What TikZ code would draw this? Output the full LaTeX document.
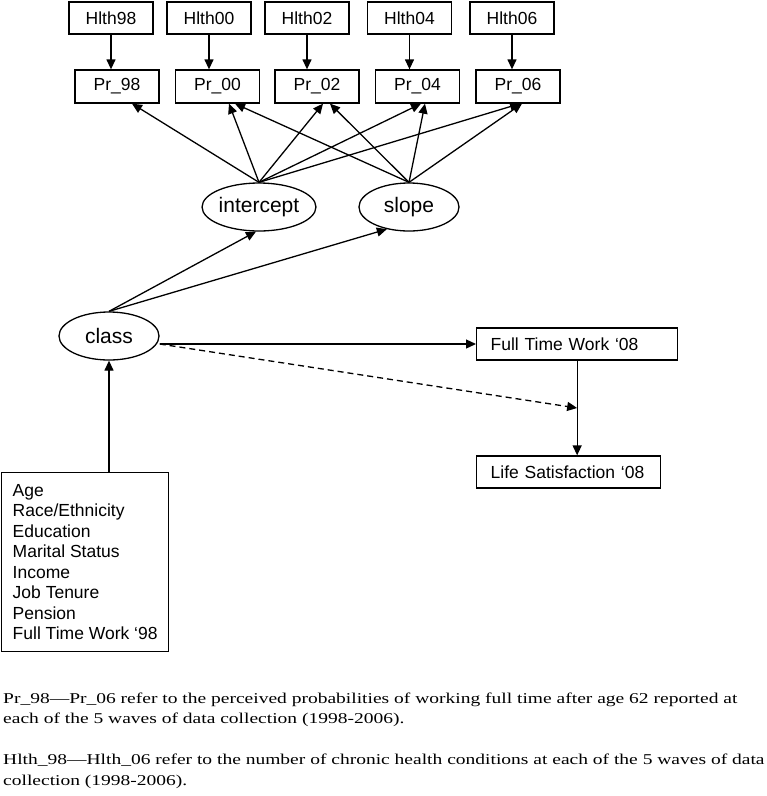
\documentclass[tikz,border=0pt]{standalone}
\usepackage{fontspec}
\usepackage{tikz}
\usetikzlibrary{calc,arrows.meta,shapes.geometric}
\newfontfamily\diagfont{Liberation Sans}
\newfontfamily\notefont[FakeStretch=1.3]{Liberation Serif}
\tikzset{
  box/.style={draw=black, line width=1.3pt, inner sep=0pt, minimum width=84pt, minimum height=32pt, font=\diagfont\fontsize{17.5}{20.5}\selectfont},
  oval/.style={ellipse, draw=black, line width=1.3pt, inner sep=0pt, minimum width=100pt, minimum height=48pt, font=\diagfont\fontsize{21}{24}\selectfont},
  arr/.style={draw=black, line width=1.3pt, -{Triangle[length=10pt,width=9pt]}},
  dasharr/.style={arr, dash pattern=on 6pt off 4pt},
  note/.style={anchor=base west, inner sep=0pt, font=\notefont\fontsize{15}{21}\selectfont},
}
\begin{document}
\begin{tikzpicture}[x=1pt, y=-1pt]
  \useasboundingbox (0,0) rectangle (767,796);
  % health counts
  \node[box] (h98) at (111,18) {Hlth98};
  \node[box] (h00) at (209,18) {Hlth00};
  \node[box] (h02) at (307,18) {Hlth02};
  \node[box] (h04) at (409.5,18) {Hlth04};
  \node[box] (h06) at (512,18) {Hlth06};
  % perceived probabilities
  \node[box, minimum height=33pt] (p98) at (117,86.5) {Pr\_98};
  \node[box, minimum height=33pt] (p00) at (217.5,86.5) {Pr\_00};
  \node[box, minimum height=33pt] (p02) at (317,86.5) {Pr\_02};
  \node[box, minimum height=33pt] (p04) at (417.5,86.5) {Pr\_04};
  \node[box, minimum height=33pt] (p06) at (518,86.5) {Pr\_06};
  \draw[arr] (h98.south) -- (h98.south |- p98.north);
  \draw[arr] (h00.south) -- (h00.south |- p00.north);
  \draw[arr] (h02.south) -- (h02.south |- p02.north);
  \draw[arr] (h04.south) -- (h04.south |- p04.north);
  \draw[arr] (h06.south) -- (h06.south |- p06.north);
  % growth factors
  \node[oval] (intercept) at (259,207) {intercept};
  \node[oval] (slope) at (409,207) {slope};
  \draw[arr] (intercept.north) -- ([xshift=15pt]p98.south);
  \draw[arr] (intercept.north) -- ([xshift=11.5pt]p00.south);
  \draw[arr] (intercept.north) -- ([xshift=6pt]p02.south);
  \draw[arr] (intercept.north) -- ([xshift=3.5pt]p04.south);
  \draw[arr] (intercept.north) -- ([xshift=2pt]p06.south);
  \draw[arr] (slope.north) -- ([xshift=17.5pt]p00.south);
  \draw[arr] (slope.north) -- ([xshift=13pt]p02.south);
  \draw[arr] (slope.north) -- ([xshift=7.5pt]p04.south);
  \draw[arr] (slope.north) -- ([xshift=4pt]p06.south);
  % latent class and outcomes
  \node[oval] (class) at (109,336) {class};
  \draw[arr] (class.north) -- (intercept.-97);
  \draw[arr] (class.north) -- (slope.-135);
  \node[box, anchor=west, text width=173pt, inner xsep=14pt, align=left] (ftw) at (476,344) {Full Time Work ‘08};
  \node[box, anchor=west, text width=156pt, inner xsep=14pt, align=left] (ls) at (476,472) {Life Satisfaction ‘08};
  \coordinate (join) at ($(ftw.south)!0.5!(ftw.south |- ls.north)$);
  \draw[arr] (ftw.west -| class.east) -- (ftw.west);
  \draw[arr] (ftw.south) -- (ftw.south |- ls.north);
  \draw[dasharr] (ftw.west -| class.east) -- (join);
  % covariates
  \node[box, anchor=north west, minimum width=167pt, minimum height=179pt, inner xsep=10pt, align=left] (cov) at (1,472)
    {Age\\Race/Ethnicity\\Education\\Marital Status\\Income\\Job Tenure\\Pension\\Full Time Work ‘98};
  \draw[arr] (class.south |- cov.north) -- (class.south);
  % notes
  \node[note] (note1) at (3,703) {Pr\_98—Pr\_06 refer to the perceived probabilities of working full time after age 62 reported at};
  \node[note] (note2) at (3,723) {each of the 5 waves of data collection (1998-2006).};
  \node[note] (note3) at (3,764) {Hlth\_98—Hlth\_06 refer to the number of chronic health conditions at each of the 5 waves of data};
  \node[note] (note4) at (3,785) {collection (1998-2006).};
\end{tikzpicture}
\end{document}
